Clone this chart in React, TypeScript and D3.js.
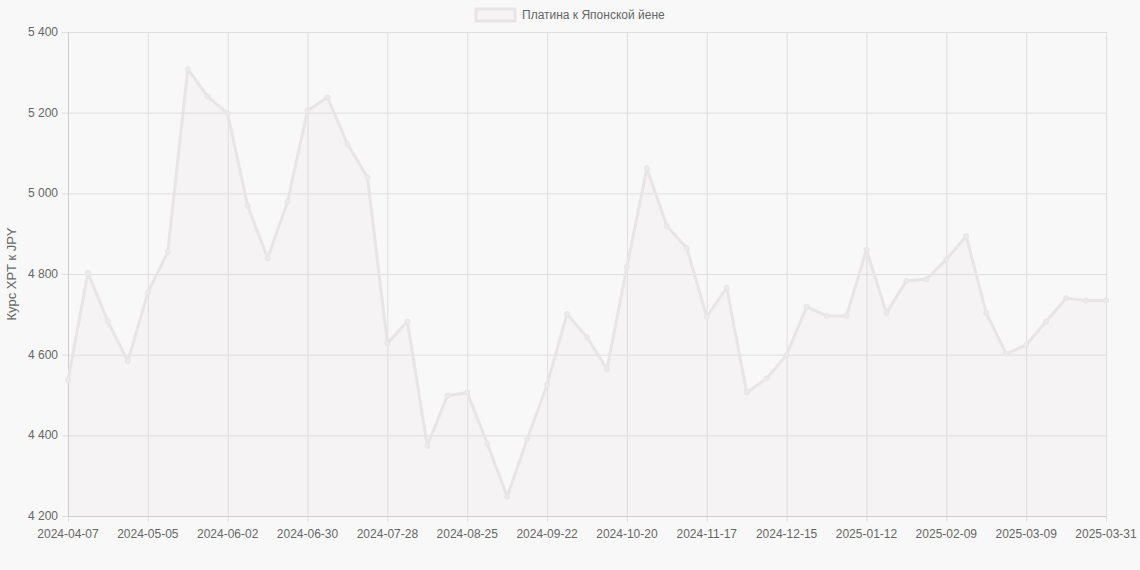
import { useEffect, useRef } from 'react';
import * as d3 from 'd3';

const dates = [
  '2024-04-07', '2024-04-14', '2024-04-21', '2024-04-28', '2024-05-05', '2024-05-12', '2024-05-19',
  '2024-05-26', '2024-06-02', '2024-06-09', '2024-06-16', '2024-06-23', '2024-06-30', '2024-07-07',
  '2024-07-14', '2024-07-21', '2024-07-28', '2024-08-04', '2024-08-11', '2024-08-18', '2024-08-25',
  '2024-09-01', '2024-09-08', '2024-09-15', '2024-09-22', '2024-09-29', '2024-10-06', '2024-10-13',
  '2024-10-20', '2024-10-27', '2024-11-03', '2024-11-10', '2024-11-17', '2024-11-24', '2024-12-01',
  '2024-12-08', '2024-12-15', '2024-12-22', '2024-12-29', '2025-01-05', '2025-01-12', '2025-01-19',
  '2025-01-26', '2025-02-02', '2025-02-09', '2025-02-16', '2025-02-23', '2025-03-02', '2025-03-09',
  '2025-03-16', '2025-03-23', '2025-03-30', '2025-03-31',
];

const rates = [
  4537, 4803, 4682, 4584, 4754, 4855, 5308,
  5240, 5198, 4969, 4839, 4979, 5205, 5238,
  5122, 5040, 4628, 4682, 4374, 4498, 4506,
  4380, 4248, 4390, 4525, 4701, 4643, 4564,
  4818, 5062, 4919, 4864, 4694, 4766, 4506,
  4541, 4599, 4719, 4696, 4696, 4860, 4703,
  4783, 4787, 4836, 4894, 4703, 4602, 4624,
  4682, 4740, 4734, 4734,
];

const shownLabels = [
  '2024-04-07', '2024-05-05', '2024-06-02', '2024-06-30', '2024-07-28', '2024-08-25', '2024-09-22',
  '2024-10-20', '2024-11-17', '2024-12-15', '2025-01-12', '2025-02-09', '2025-03-09', '2025-03-31',
];

const yTicks = [4200, 4400, 4600, 4800, 5000, 5200, 5400];

const seriesName = 'Платина к Японской йене';
const yTitle = 'Курс XPT к JPY';

export default function App() {
  const ref = useRef<SVGSVGElement | null>(null);

  useEffect(() => {
    const svg = d3.select(ref.current);
    svg.selectAll('*').remove();

    const W = 1140;
    const H = 570;
    const margin = { top: 32, right: 34, bottom: 54, left: 68 };
    const width = W - margin.left - margin.right;
    const height = H - margin.top - margin.bottom;
    const font = '"Liberation Sans", Arial, sans-serif';
    const fmt = d3.formatLocale({ decimal: ',', thousands: ' ', grouping: [3], currency: ['', ''] }).format(',');
    const fillCol = 'rgba(225, 205, 215, 0.13)';
    const lineCol = '#e7e5e5';

    svg.append('rect').attr('width', W).attr('height', H).attr('fill', '#f8f8f8');

    const x = d3.scalePoint<string>().domain(dates).range([0, width]);
    const y = d3.scaleLinear().domain([4200, 5400]).range([height, 0]);

    const g = svg.append('g').attr('transform', `translate(${margin.left},${margin.top})`);

    // grid
    g.append('g')
      .selectAll('line')
      .data(yTicks)
      .join('line')
      .attr('x1', -6)
      .attr('x2', width)
      .attr('y1', d => y(d) + 0.5)
      .attr('y2', d => y(d) + 0.5)
      .attr('stroke', '#dedede')
      .attr('stroke-width', 1);

    g.append('g')
      .selectAll('line')
      .data(shownLabels)
      .join('line')
      .attr('x1', d => x(d)! + 0.5)
      .attr('x2', d => x(d)! + 0.5)
      .attr('y1', 0)
      .attr('y2', height + 6)
      .attr('stroke', '#dedede')
      .attr('stroke-width', 1);

    // axis borders
    g.append('line')
      .attr('x1', 0.5).attr('x2', 0.5).attr('y1', 0).attr('y2', height)
      .attr('stroke', '#cdcdcd');
    g.append('line')
      .attr('x1', 0).attr('x2', width).attr('y1', height + 0.5).attr('y2', height + 0.5)
      .attr('stroke', '#cdcdcd');

    // area + line
    const pts = dates.map((d, i) => ({ d, v: rates[i] }));
    const area = d3.area<{ d: string; v: number }>()
      .x(p => x(p.d)!)
      .y0(height)
      .y1(p => y(p.v));
    const line = d3.line<{ d: string; v: number }>()
      .x(p => x(p.d)!)
      .y(p => y(p.v));

    g.append('path').datum(pts).attr('d', area).attr('fill', fillCol);
    g.append('path')
      .datum(pts)
      .attr('d', line)
      .attr('fill', 'none')
      .attr('stroke', lineCol)
      .attr('stroke-width', 3)
      .attr('stroke-linejoin', 'round');

    g.append('g')
      .selectAll('circle')
      .data(pts)
      .join('circle')
      .attr('cx', p => x(p.d)!)
      .attr('cy', p => y(p.v))
      .attr('r', 2.5)
      .attr('fill', '#ecebeb')
      .attr('stroke', lineCol)
      .attr('stroke-width', 1);

    // tick labels
    g.append('g')
      .selectAll('text')
      .data(yTicks)
      .join('text')
      .attr('x', -10)
      .attr('y', d => y(d) + 4)
      .attr('text-anchor', 'end')
      .attr('font-family', font)
      .attr('font-size', 12)
      .attr('fill', '#666')
      .text(d => fmt(d));

    g.append('g')
      .selectAll('text')
      .data(shownLabels)
      .join('text')
      .attr('x', d => x(d)!)
      .attr('y', height + 22)
      .attr('text-anchor', 'middle')
      .attr('font-family', font)
      .attr('font-size', 12)
      .attr('fill', '#666')
      .text(d => d);

    // y title
    svg.append('text')
      .attr('transform', `translate(16,${margin.top + height / 2}) rotate(-90)`)
      .attr('text-anchor', 'middle')
      .attr('font-family', font)
      .attr('font-size', 13)
      .attr('fill', '#666')
      .text(yTitle);

    // legend
    const lg = svg.append('g');
    lg.append('rect')
      .attr('x', 476).attr('y', 9).attr('width', 39).attr('height', 12)
      .attr('fill', fillCol)
      .attr('stroke', lineCol)
      .attr('stroke-width', 3);
    lg.append('text')
      .attr('x', 522)
      .attr('y', 19)
      .attr('font-family', font)
      .attr('font-size', 12)
      .attr('fill', '#666')
      .text(seriesName);
  }, []);

  return (
    <svg
      ref={ref}
      width={1140}
      height={570}
      style={{ position: 'absolute', left: 0, top: 0, display: 'block' }}
    />
  );
}
